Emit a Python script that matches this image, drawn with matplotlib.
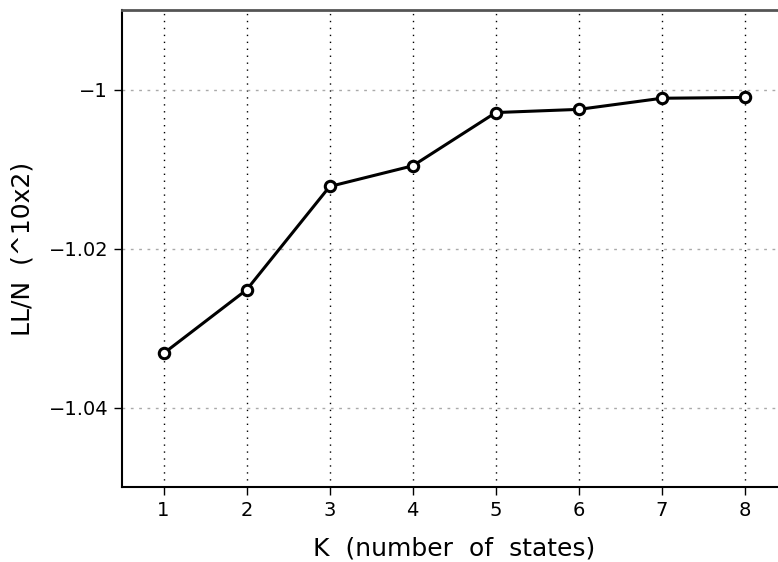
import matplotlib
matplotlib.use("Agg")
import matplotlib.pyplot as plt

K = [1, 2, 3, 4, 5, 6, 7, 8]
LL = [-1.0332, -1.0252, -1.0122, -1.0096, -1.0029, -1.0025, -1.0011, -1.0010]
yticks = [-1.04, -1.02, -1.0]
yticklabels = ["\u22121.04", "\u22121.02", "\u22121"]

plt.rcParams['font.family'] = ['DejaVu Sans']
fig = plt.figure(figsize=(7.78, 5.62), dpi=100)
W, H = 778, 562
left, right, top, bottom = 122, 786.5, 10, 487
ax = fig.add_axes([left / W, 1 - bottom / H, (right - left) / W, (bottom - top) / H])

ax.plot(K, LL, color='black', lw=2.2, marker='o', ms=7.5, mfc='white', mec='black', mew=2.2, zorder=3)

ax.set_xlim(0.5, 8.5)
ax.set_ylim(-1.05, -0.99)
ax.set_xticks(K)
ax.set_yticks(yticks)
ax.set_yticklabels(yticklabels)

for k in K:
    ax.axvline(k, color='black', lw=1, ls=(0, (1, 4)), zorder=1)
for v in yticks:
    ax.axhline(v, color='#aaaaaa', lw=1, ls=(0, (2, 4)), zorder=1)

ax.spines['right'].set_visible(False)
ax.spines['top'].set_color('#555555')
ax.spines['top'].set_linewidth(2)
for s in ['left', 'bottom']:
    ax.spines[s].set_linewidth(1.5)
ax.tick_params(direction='out', length=6, width=1, labelsize=14, pad=4)

ax.set_xlabel("K  (number  of  states)", fontsize=18, labelpad=12)
ax.set_ylabel("LL/N  (^10x2)", fontsize=18, labelpad=10)

fig.savefig("out.png", dpi=100)
